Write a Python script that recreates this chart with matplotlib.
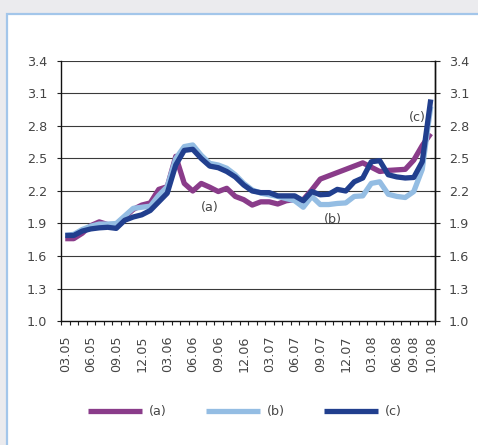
import matplotlib
matplotlib.use("Agg")
import matplotlib.pyplot as plt
from matplotlib.patches import Rectangle
from matplotlib.ticker import FixedLocator

# Series values, one per period
series_a = [1.76, 1.76, 1.81, 1.88, 1.915, 1.89, 1.89, 1.96, 2.03, 2.07, 2.09,
            2.215, 2.24, 2.52, 2.27, 2.20, 2.27, 2.235, 2.195, 2.225, 2.15, 2.12,
            2.07, 2.10, 2.10, 2.08, 2.11, 2.12, 2.12, 2.21, 2.31, 2.34, 2.37,
            2.40, 2.43, 2.46, 2.42, 2.38, 2.39, 2.395, 2.40, 2.485, 2.62, 2.73]
series_b = [1.79, 1.80, 1.845, 1.875, 1.895, 1.895, 1.90, 1.97, 2.04, 2.05, 2.06,
            2.16, 2.24, 2.50, 2.61, 2.625, 2.53, 2.455, 2.44, 2.41, 2.35, 2.27,
            2.21, 2.18, 2.165, 2.15, 2.13, 2.11, 2.05, 2.15, 2.075, 2.075, 2.085,
            2.09, 2.15, 2.155, 2.27, 2.285, 2.17, 2.15, 2.14, 2.195, 2.40, 2.98]
series_c = [1.79, 1.79, 1.83, 1.85, 1.86, 1.865, 1.855, 1.93, 1.96, 1.98, 2.02,
            2.10, 2.18, 2.44, 2.575, 2.585, 2.50, 2.43, 2.415, 2.38, 2.33, 2.255,
            2.20, 2.185, 2.185, 2.155, 2.155, 2.155, 2.11, 2.195, 2.165, 2.17, 2.215,
            2.20, 2.285, 2.32, 2.47, 2.48, 2.35, 2.33, 2.32, 2.325, 2.47, 3.045]
series_names = ["(a)", "(b)", "(c)"]

tick_positions = [0, 3, 6, 9, 12, 15, 18, 21, 24, 27, 30, 33, 36, 39, 41, 43]
tick_labels = ["03.05", "06.05", "09.05", "12.05", "03.06", "06.06", "09.06",
               "12.06", "03.07", "06.07", "09.07", "12.07", "03.08", "06.08",
               "09.08", "10.08"]
y_ticks = [1.0, 1.3, 1.6, 1.9, 2.2, 2.5, 2.8, 3.1, 3.4]

colors = ["#8a3c8a", "#94bde3", "#213f8e"]
text_color = "#454545"
font_size = 9.2

W, H = 478, 445
fig = plt.figure(figsize=(W / 100, H / 100), dpi=100)
fig.patch.set_facecolor("#ebebee")

# White panel with a light blue frame, kept behind the axes
panel = Rectangle((7 / W, -0.05), 1.0, 1 - 14 / H + 0.05, transform=fig.transFigure,
                  facecolor="white", edgecolor="#a3c6ea", linewidth=1.6, zorder=-10)
fig.patches.append(panel)

ax = fig.add_axes([61 / W, 1 - 321 / H, (435 - 61) / W, (321 - 61) / H])
ax.set_facecolor("white")

x = list(range(len(series_a)))
lines = []
for vals, col, name in zip([series_a, series_b, series_c], colors, series_names):
    ln, = ax.plot(x, vals, color=col, linewidth=3.8, solid_joinstyle="round",
                  solid_capstyle="butt", label=name, zorder=3)
    lines.append(ln)

ax.set_xlim(-0.5, len(x) - 0.5)
ax.set_ylim(1.0, 3.4)

# Horizontal gridlines
for v in y_ticks[1:]:
    ax.axhline(v, color="#3a3a3a", linewidth=0.8, zorder=1)

ax.set_yticks(y_ticks)
ax.set_yticklabels([f"{v:.1f}" for v in y_ticks])
ax.tick_params(axis="y", which="major", direction="out", length=3, width=0.8,
               pad=7, labelsize=font_size, labelcolor=text_color, color="#222222",
               left=True, right=False)

ax.xaxis.set_major_locator(FixedLocator(tick_positions))
ax.set_xticklabels(tick_labels, rotation=90)
ax.xaxis.set_minor_locator(FixedLocator([i - 0.5 for i in range(len(x) + 1)]))
ax.tick_params(axis="x", which="major", length=0, pad=10.5, labelsize=font_size,
               labelcolor=text_color)
ax.tick_params(axis="x", which="minor", direction="out", length=3, width=0.8,
               color="#222222")

for side in ["left", "bottom", "right"]:
    ax.spines[side].set_color("#111111")
    ax.spines[side].set_linewidth(1.0)
ax.spines["top"].set_visible(False)

# Mirrored value axis on the right
ax2 = ax.twinx()
ax2.set_ylim(ax.get_ylim())
ax2.set_yticks(y_ticks)
ax2.set_yticklabels([f"{v:.1f}" for v in y_ticks])
ax2.tick_params(axis="y", direction="inout", length=6.5, width=0.8, pad=6.8,
                labelsize=font_size, labelcolor=text_color, color="#222222")
for side in ["left", "bottom", "top"]:
    ax2.spines[side].set_visible(False)
ax2.spines["right"].set_color("#111111")
ax2.spines["right"].set_linewidth(1.0)

# Series annotations
ax.text(17, 2.05, "(a)", color=text_color, fontsize=font_size, ha="center", va="center")
ax.text(31.5, 1.94, "(b)", color=text_color, fontsize=font_size, ha="center", va="center")
ax.text(41.4, 2.88, "(c)", color=text_color, fontsize=font_size, ha="center", va="center")

fig.legend(handles=lines, labels=series_names, loc="center",
           bbox_to_anchor=(245 / W, 1 - 412 / H), ncol=3, frameon=False,
           fontsize=font_size, labelcolor=text_color, handlelength=4.2,
           handletextpad=0.55, columnspacing=3.1)

fig.savefig("out.png", dpi=100, facecolor=fig.get_facecolor())
